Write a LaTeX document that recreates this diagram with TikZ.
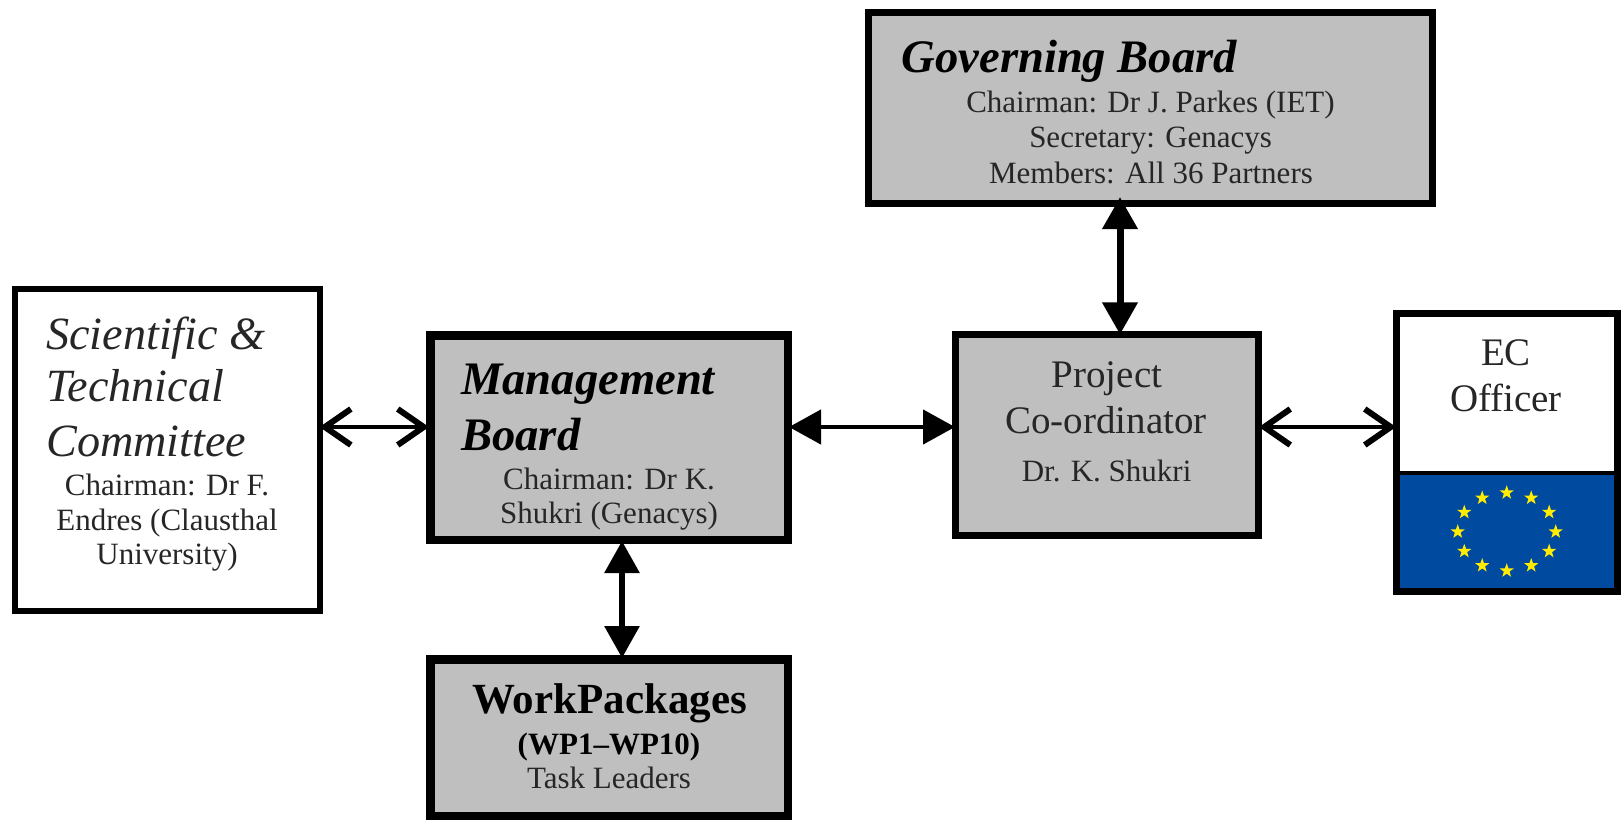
\documentclass[tikz,border=0pt]{standalone}
\usepackage{fontspec}
\setmainfont{Liberation Serif}
\usetikzlibrary{arrows.meta,shapes.geometric}
\definecolor{boxgrey}{HTML}{BFBFBF}
\definecolor{eublue}{HTML}{004A9F}
\definecolor{eustar}{HTML}{FFEC00}
\definecolor{softink}{HTML}{262626}
\tikzset{
  framebox/.style={draw=black,inner sep=0pt,line width=#1,outer sep=.5*#1},
  greybox/.style={framebox=#1,fill=boxgrey},
  whitebox/.style={framebox=#1,fill=white},
  label/.style={anchor=base,inner sep=0pt,text=softink,font=\fontsize{31}{31}\selectfont},
  labelleft/.style={anchor=base west,inner sep=0pt,text=softink},
  headit/.style={labelleft,font=\fontsize{46.2}{46.2}\selectfont\itshape},
  headbi/.style={labelleft,text=black,font=\fontsize{46.6}{46.6}\selectfont\bfseries\itshape},
  midtext/.style={label,font=\fontsize{39}{39}\selectfont},
  solidlink/.style={line width=#1,shorten <=-3pt,shorten >=-3pt,{Triangle[length=32pt,width=34pt]}-{Triangle[length=32pt,width=34pt]}},
  openlink/.style={line width=4.5pt,shorten <=-3pt,shorten >=-3pt,{Straight Barb[length=26pt,width=36pt,line width=6pt]}-{Straight Barb[length=26pt,width=36pt,line width=6pt]}},
  eustarnode/.style={star,star points=5,star point ratio=2.5,fill=eustar,inner sep=0pt,minimum size=15pt}
}
\begin{document}
\begin{tikzpicture}[x=1pt,y=-1pt]
\useasboundingbox (0,0) rectangle (1621,819);
% boxes
\node[whitebox=6pt,minimum width=305pt,minimum height=322pt] (sci) at (167.1,449.9) {};
\node[greybox=8.5pt,minimum width=357.5pt,minimum height=204.5pt] (mgmt) at (609,437.5) {};
\node[greybox=8.5pt,minimum width=357.5pt,minimum height=156.5pt] (wp) at (609,737.5) {};
\node[greybox=7pt,minimum width=564.5pt,minimum height=191pt] (gov) at (1150.25,108) {};
\node[greybox=7pt,minimum width=303pt,minimum height=200.5pt] (proj) at (1107,435.2) {};
\node[whitebox=7pt,minimum width=221pt,minimum height=278pt] (ec) at (1507,452.5) {};
\node[draw=black,line width=4pt,fill=eublue,inner sep=0pt,minimum width=219pt,minimum height=117pt] (flag) at (1506.5,531.5) {};
\draw[line width=7pt] (ec.north west) ++(3.5,3.5) rectangle (1618,591.5);
% stars
\foreach \i in {0,...,11}
  \node[eustarnode] (star\i) at ({1506.7+49*cos(30*\i)},{531.7+39*sin(30*\i)}) {};
% connector guides
\coordinate (rowy) at (0,427);
\coordinate (colwp) at (622,0);
\coordinate (colgov) at (1120,0);
% connectors
\draw[openlink] (sci.east |- rowy) -- (mgmt.west |- rowy);
\draw[solidlink=4.5pt] (mgmt.east |- rowy) -- (proj.west |- rowy);
\draw[openlink] (proj.east |- rowy) -- (ec.west |- rowy);
\draw[solidlink=6pt] (mgmt.south -| colwp) -- (wp.north -| colwp);
\draw[solidlink=7pt,shorten <=-10pt] (gov.south -| colgov) -- (proj.north -| colgov);
% Scientific
\node[headit] (t1) at (46,349) {Scientific \&};
\node[headit] (t2) at (46,401) {Technical};
\node[headit] (t3) at (46,456.5) {Committee};
\node[label] (t4) at (167,495.5) {Chairman: Dr F.};
\node[label] (t5) at (167,530) {Endres (Clausthal};
\node[label] (t6) at (167,564.5) {University)};
% Management
\node[headbi] (t7) at (461,394.5) {Management};
\node[headbi] (t8) at (461,450.6) {Board};
\node[label] (t9) at (609,489) {Chairman: Dr K.};
\node[label] (t10) at (609,523) {Shukri (Genacys)};
% Work packages
\node[label,text=black,font=\fontsize{43}{43}\selectfont\bfseries] (t11) at (609.6,713) {WorkPackages};
\node[label,text=black,font=\fontsize{31}{31}\selectfont\bfseries] (t12) at (609,754) {(WP1–WP10)};
\node[label] (t13) at (609,788.5) {Task Leaders};
% Governing
\node[headbi] (t14) at (901.5,72.4) {Governing Board};
\node[label] (t15) at (1150.5,112) {Chairman: Dr J. Parkes (IET)};
\node[label] (t16) at (1150.6,147.4) {Secretary: Genacys};
\node[label] (t17) at (1151,183) {Members: All 36 Partners};
% Project
\node[midtext] (t18) at (1107,387.7) {Project};
\node[midtext] (t19) at (1106,433) {Co-ordinator};
\node[label] (t20) at (1106.6,481) {Dr. K. Shukri};
% EC
\node[midtext] (t21) at (1506,365) {EC};
\node[midtext] (t22) at (1506,411) {Officer};
\end{tikzpicture}
\end{document}
